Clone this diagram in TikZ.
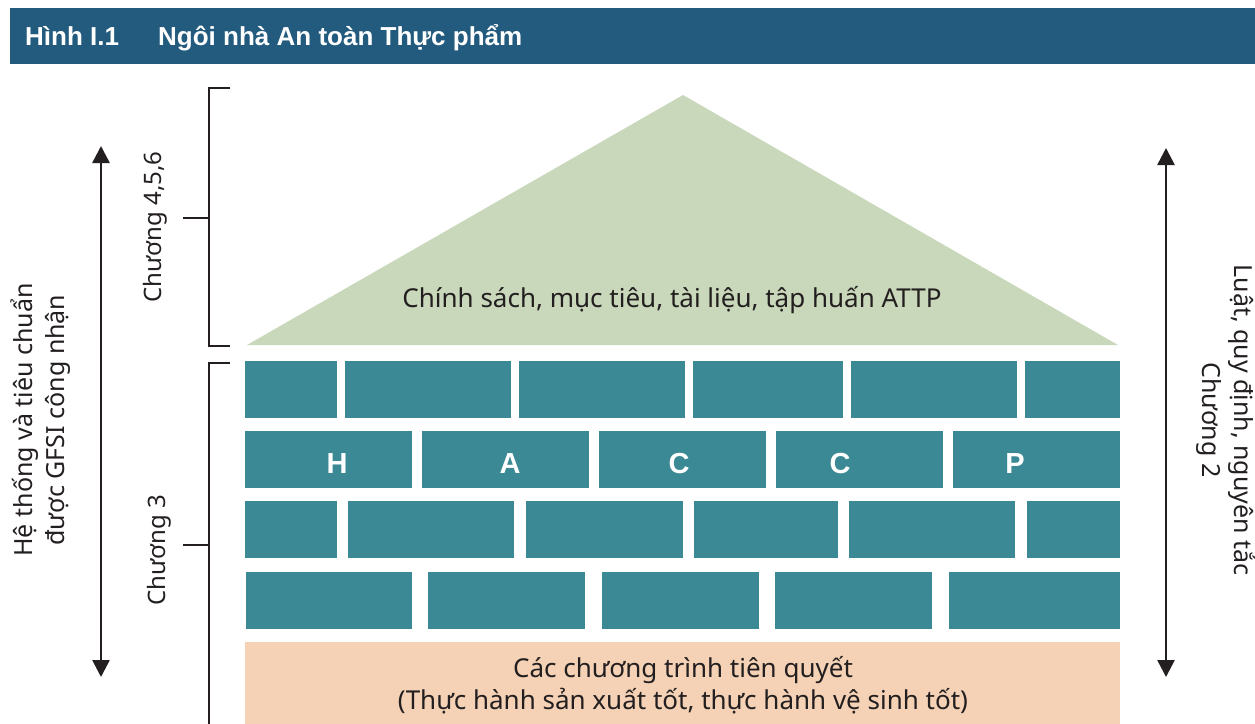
\documentclass[tikz,border=0pt]{standalone}
\usepackage{fontspec}
\setmainfont{Noto Sans}
\newfontfamily\bodyfont{Noto Sans}
\newfontfamily\boldfont{Liberation Sans}
\usetikzlibrary{arrows.meta}
\definecolor{hdrblue}{HTML}{235B7E}
\definecolor{roofgreen}{HTML}{C9D8BA}
\definecolor{brickteal}{HTML}{3B8994}
\definecolor{basepeach}{HTML}{F5D2B5}
\definecolor{inkgray}{HTML}{231F20}
\begin{document}
\begin{tikzpicture}[x=1pt,y=-1pt,
  brick/.style={fill=brickteal,draw=none,inner sep=0pt,outer sep=0pt,anchor=north west},
  bodytext/.style={text=inkgray,font=\bodyfont\fontsize{26}{29}\selectfont,inner sep=0pt},
  sidetext/.style={text=inkgray,font=\bodyfont\fontsize{25}{32}\selectfont,inner sep=0pt},
  chaptext/.style={text=inkgray,font=\bodyfont\fontsize{24}{30}\selectfont,inner sep=0pt},
  titletext/.style={text=white,font=\boldfont\bfseries\fontsize{26}{30}\selectfont,inner sep=0pt,anchor=base west},
  bracketline/.style={draw=inkgray,line width=1.3pt},
  bigarrow/.style={draw=inkgray,line width=2.6pt,{Triangle[length=17pt,width=17pt]}-{Triangle[length=17pt,width=17pt]}},
  letter/.style={text=white,font=\boldfont\bfseries\fontsize{29}{30}\selectfont,inner sep=0pt,anchor=base}]
\useasboundingbox (0,0) rectangle (1255,723);
% header
\node[fill=hdrblue,inner sep=0pt,outer sep=0pt,anchor=north west,minimum width=1245pt,minimum height=56pt] (header) at (10,8) {};
\node[titletext] (fig) at (25,45) {Hình I.1};
\node[titletext] (title) at (158,45) {Ngôi nhà An toàn Thực phẩm};
% roof
\coordinate (apex) at (683,95);
\coordinate (roofL) at (247,345);
\coordinate (roofR) at (1118,345);
\fill[roofgreen] (apex) -- (roofR) -- (roofL) -- cycle;
\node[bodytext,anchor=base] (rooftext) at (672,307) {Chính sách, mục tiêu, tài liệu, tập huấn ATTP};
% bricks
\foreach \a/\b [count=\i] in {245/337,345/511,519/685,693/843,851/1017,1025/1120}
  \node[brick,minimum width={(\b-\a)*1pt},minimum height=57pt] (r1b\i) at (\a,361) {};
\foreach \a/\b [count=\i] in {245/412,422/589,599/766,776/943,953/1120}
  \node[brick,minimum width={(\b-\a)*1pt},minimum height=57pt] (r2b\i) at (\a,431) {};
\foreach \a/\b [count=\i] in {245/337,348/514,526/683,694/838,849/1015,1027/1120}
  \node[brick,minimum width={(\b-\a)*1pt},minimum height=57pt] (r3b\i) at (\a,501) {};
\foreach \a/\b [count=\i] in {246/412,428/585,602/759,775/932,949/1120}
  \node[brick,minimum width={(\b-\a)*1pt},minimum height=57pt] (r4b\i) at (\a,572) {};
% HACCP
\node[letter] (lH) at (337,473) {H};
\node[letter] (lA) at (510,473) {A};
\node[letter] (lC1) at (679,473) {C};
\node[letter] (lC2) at (840,473) {C};
\node[letter] (lP) at (1015,473) {P};
% foundation
\node[fill=basepeach,inner sep=0pt,outer sep=0pt,anchor=north west,minimum width=875pt,minimum height=85pt] (base) at (245,642) {};
\node[bodytext,anchor=base] (base1) at (683,677) {Các chương trình tiên quyết};
\node[bodytext,anchor=base] (base2) at (683,709) {(Thực hành sản xuất tốt, thực hành vệ sinh tốt)};
% brackets
\coordinate (b1t) at (230,88);
\coordinate (b1tc) at (209,88);
\coordinate (b1bc) at (209,346);
\coordinate (b1b) at (230,346);
\coordinate (b1m) at (209,218);
\coordinate (b1mt) at (183,218);
\draw[bracketline] (b1t) -- (b1tc) -- (b1bc) -- (b1b);
\draw[bracketline] (b1mt) -- (b1m);
\coordinate (b2t) at (230,363);
\coordinate (b2tc) at (209,363);
\coordinate (b2bc) at (209,730);
\coordinate (b2m) at (209,545);
\coordinate (b2mt) at (183,545);
\draw[bracketline] (b2t) -- (b2tc) -- (b2bc);
\draw[bracketline] (b2mt) -- (b2m);
\node[chaptext,rotate=90] (ch456) at (155,227) {Chương 4,5,6};
\node[chaptext,rotate=90] (ch3) at (159,550) {Chương 3};
% arrows
\coordinate (la1) at (101,146);
\coordinate (la2) at (101,677);
\draw[bigarrow] (la1) -- (la2);
\coordinate (ra1) at (1166,148);
\coordinate (ra2) at (1166,677);
\draw[bigarrow] (ra1) -- (ra2);
\node[sidetext,rotate=90,align=center] (lefttext) at (41,420) {Hệ thống và tiêu chuẩn\\được GFSI công nhận};
\node[sidetext,rotate=-90,align=center] (righttext) at (1226,420) {Luật, quy định, nguyên tắc\\Chương 2};
\end{tikzpicture}
\end{document}
